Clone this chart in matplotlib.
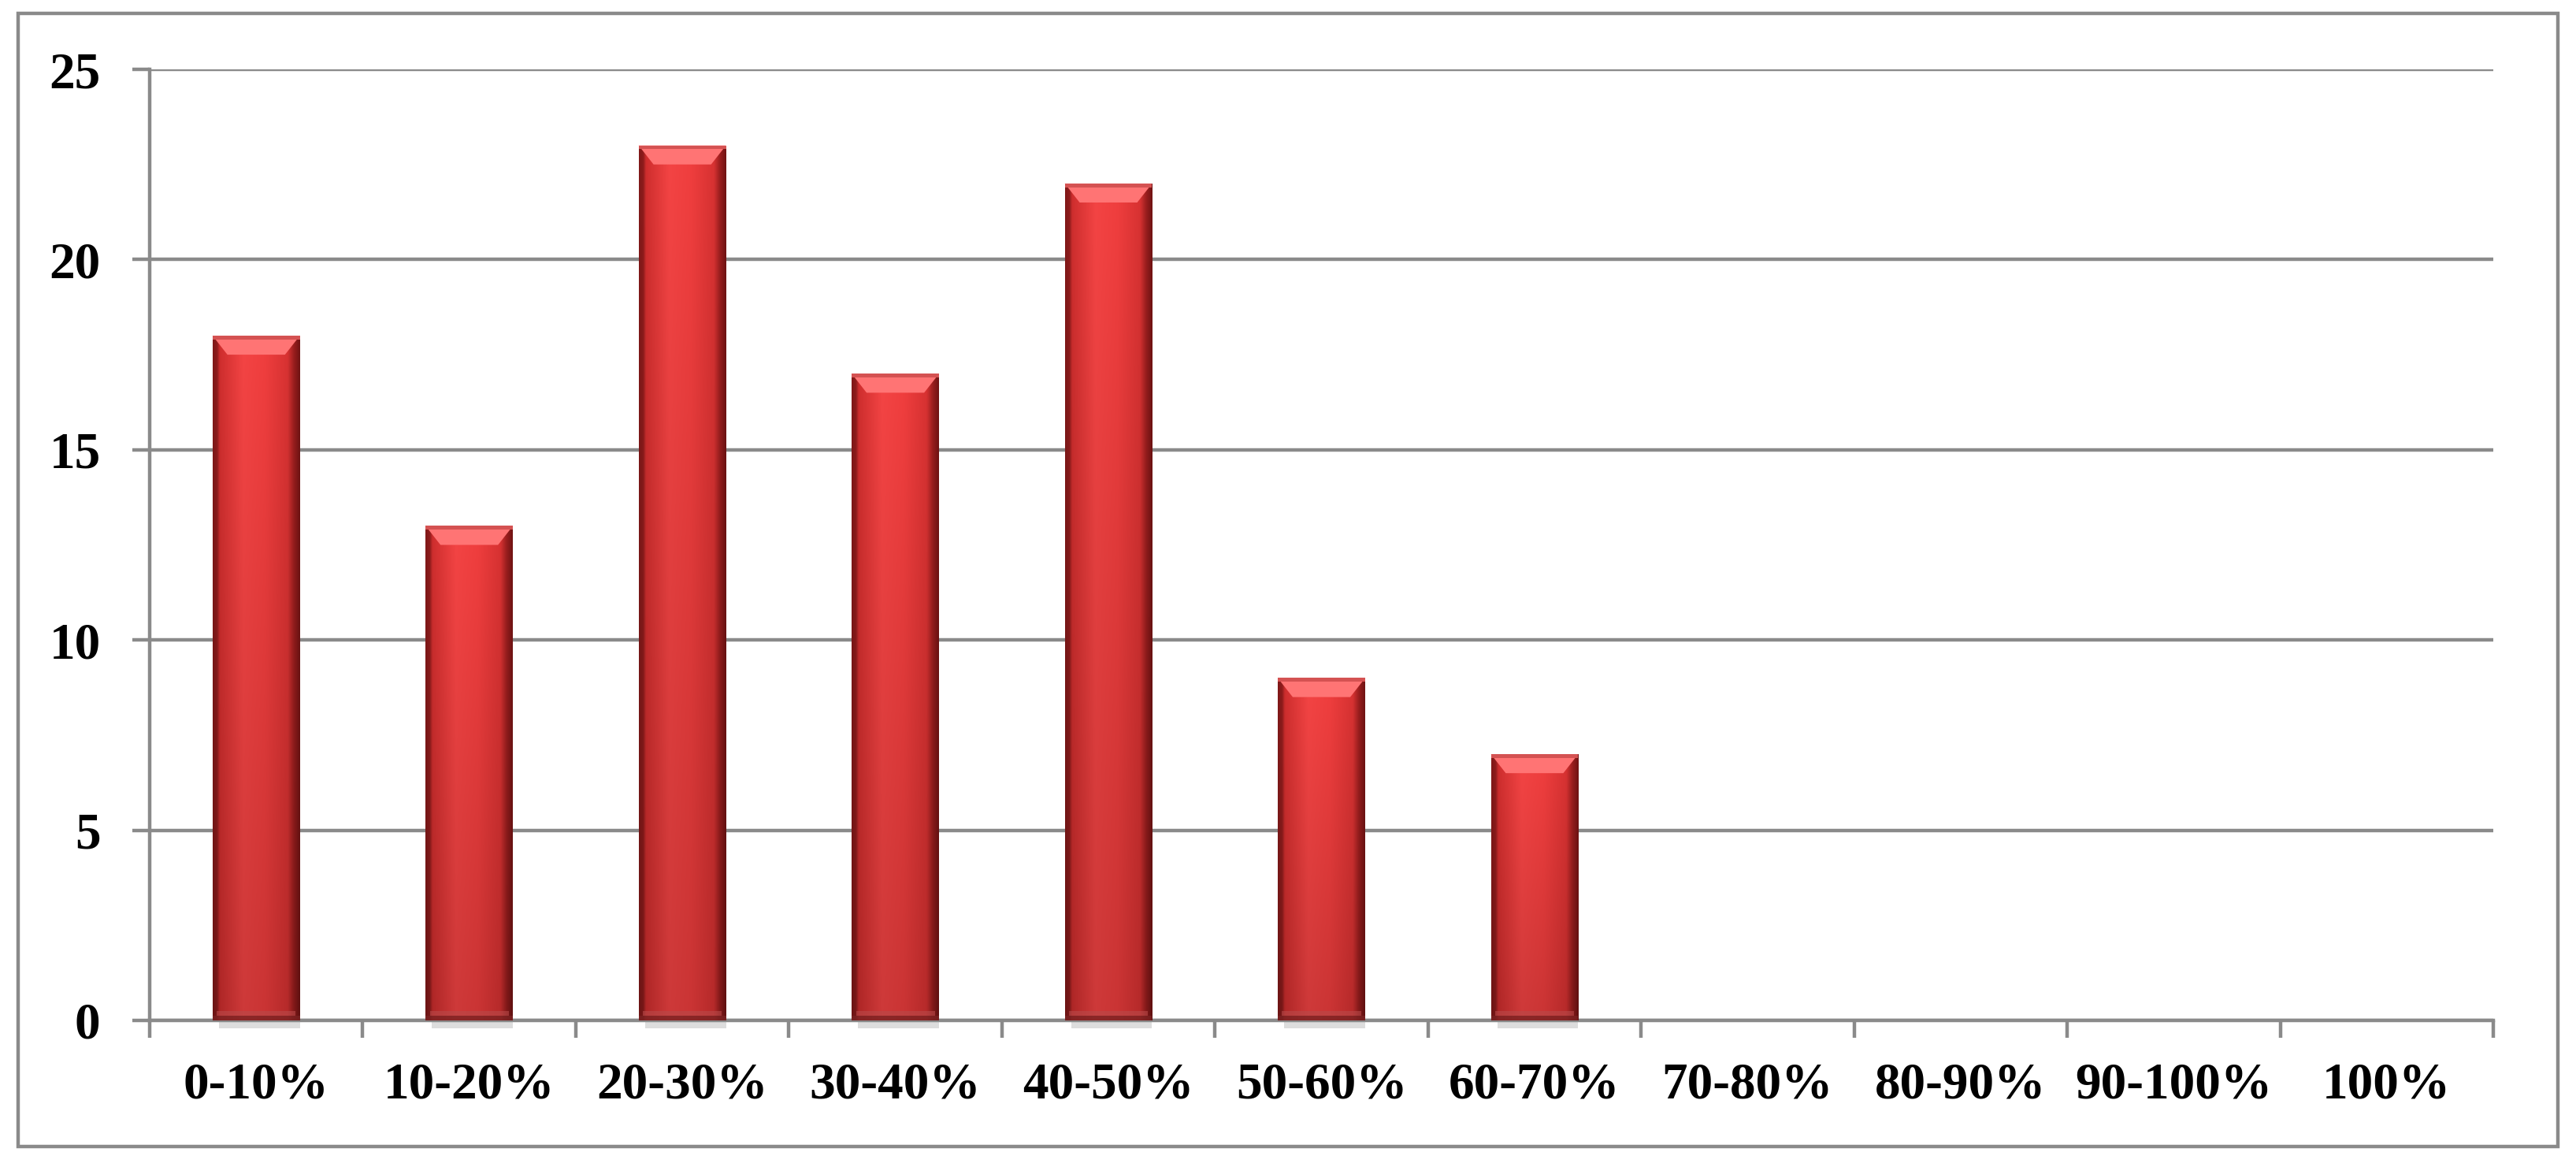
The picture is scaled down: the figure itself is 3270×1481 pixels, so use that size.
import numpy as np
import matplotlib
matplotlib.use("Agg")
import matplotlib.pyplot as plt
from matplotlib.colors import LinearSegmentedColormap
from matplotlib.patches import Rectangle, Polygon

# dados
categorias = ["0-10%", "10-20%", "20-30%", "30-40%", "40-50%", "50-60%",
              "60-70%", "70-80%", "80-90%", "90-100%", "100%"]
valores = [18, 13, 23, 17, 22, 9, 7, 0, 0, 0, 0]
y_ticks = [0, 5, 10, 15, 20, 25]

W, H = 3270, 1481
GRID = "#8a8a8a"

plt.rcParams["font.family"] = ["Liberation Serif", "DejaVu Serif"]

fig = plt.figure(figsize=(W / 100, H / 100), dpi=100)
fig.patch.set_facecolor("white")

# moldura externa
fig.patches.append(Rectangle((23 / W, 1 - 1455 / H), (3247 - 23) / W, (1455 - 17) / H,
                             transform=fig.transFigure, fill=False,
                             edgecolor=GRID, linewidth=3.2))

ax = fig.add_axes([190 / W, 1 - 1295 / H, (3165 - 190) / W, (1295 - 88) / H])

x = np.arange(len(categorias))
largura = 0.41

# gradiente horizontal do "cilindro"
perfil = LinearSegmentedColormap.from_list("barra", [
    (0.00, "#801818"), (0.05, "#8e1c1c"), (0.08, "#cf2e2e"), (0.35, "#f44444"),
    (0.60, "#f03e3e"), (0.86, "#d83232"), (0.93, "#9a1e1e"), (1.00, "#701313")])
rgb_h = perfil(np.linspace(0, 1, 256))[:, :3]

barras = ax.bar(x, valores, width=largura, color="#e83a3a", edgecolor="none", zorder=3)
for b in barras:
    h = b.get_height()
    if h <= 0:
        continue
    x0, w = b.get_x(), b.get_width()
    # sombra leve sob a barra
    ax.add_patch(Rectangle((x0 + 0.03, -0.2), w - 0.03, 0.2, color="#cfcfcf",
                           alpha=0.7, zorder=2, clip_on=False, linewidth=0))
    # gradiente 2D: horizontal x vertical (mais escuro embaixo)
    fator = np.linspace(1.0, 0.84, 200)[:, None, None]
    img_arr = np.clip(rgb_h[None, :, :] * fator, 0, 1)
    img = ax.imshow(img_arr, aspect="auto", extent=(x0, x0 + w, 0, h),
                    zorder=4, interpolation="bicubic")
    img.set_clip_path(b)
    # faixa da base
    ax.add_patch(Rectangle((x0 + 0.02, 0.12), w - 0.04, 0.12, facecolor="#b84a4a",
                           edgecolor="none", alpha=0.6, zorder=5))
    ax.add_patch(Rectangle((x0, 0), w, 0.12, facecolor="#7a2222",
                           edgecolor="none", alpha=0.8, zorder=5))
    # chanfro do topo
    dx, dy = 0.07, 0.5
    ax.add_patch(Polygon([(x0, h), (x0 + w, h), (x0 + w - dx, h - dy), (x0 + dx, h - dy)],
                         closed=True, facecolor="#ff7474", edgecolor="none", zorder=6))
    ax.add_patch(Rectangle((x0, h - 0.1), w, 0.1, facecolor="#d45252",
                           edgecolor="none", zorder=6))

ax.set_xlim(-0.5, len(categorias) - 0.5)
ax.set_ylim(0, 25)

ax.set_yticks(y_ticks)
ax.set_yticklabels([str(v) for v in y_ticks], fontsize=47, fontweight="bold")
ax.yaxis.grid(True, color=GRID, linewidth=3.2, zorder=0)
ax.set_axisbelow(True)

ax.set_xticks(x)
ax.set_xticklabels(categorias, fontsize=47, fontweight="bold")
ax.set_xticks(np.arange(len(categorias) + 1) - 0.5, minor=True)
ax.tick_params(axis="x", which="major", length=0, pad=38)
ax.tick_params(axis="x", which="minor", length=16, width=3.2, color=GRID, direction="out")
ax.tick_params(axis="y", length=16, width=3.2, color=GRID, direction="out", pad=29)

for s in ["top", "right"]:
    ax.spines[s].set_visible(False)
for s in ["left", "bottom"]:
    ax.spines[s].set_color(GRID)
    ax.spines[s].set_linewidth(3.2)

fig.savefig("out.png", dpi=100, facecolor="white")
